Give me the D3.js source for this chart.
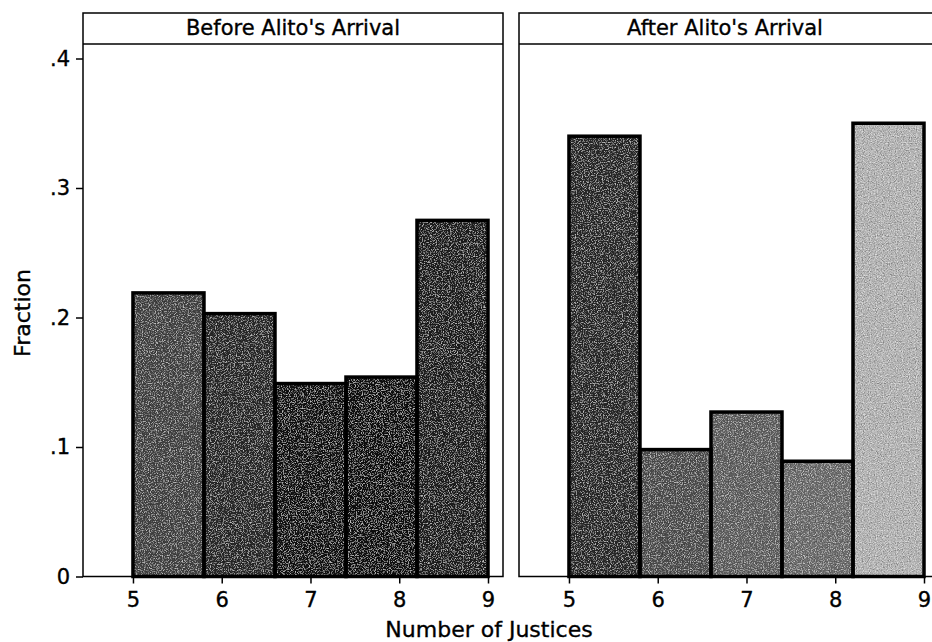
<!DOCTYPE html>
<html>
<head>
  <meta charset="utf-8">
  <title>Number of Justices - Before / After Alito</title>
  <script src="https://d3js.org/d3.v7.min.js"></script>
  <style>
    body { margin: 0; overflow: hidden; background: #fff; }
    svg { display: block; }
    text { font-family: "DejaVu Sans", sans-serif; fill: #000; stroke: #000; stroke-width: 0.35px; }
  </style>
</head>
<body>
  <svg width="932" height="642"></svg>

  <script>
    // data
    const panels = ["Before Alito's Arrival", "After Alito's Arrival"];
    const binStarts = [5, 5.8, 6.6, 7.4, 8.2];
    const binWidth = 0.8;
    const beforeValues = [0.219, 0.203, 0.149, 0.154, 0.275];
    const afterValues = [0.340, 0.098, 0.127, 0.089, 0.350];
    const xTicks = [5, 6, 7, 8, 9];
    const yTicks = [0, 0.1, 0.2, 0.3, 0.4];

    // bar shades (scan looks like grainy grays)
    const beforeShades = ["#444", "#2a2a2a", "#141414", "#101010", "#1e1e1e"];
    const afterShades = ["#2a2a2a", "#4e4e4e", "#606060", "#6c6c6c", "#b4b4b4"];

    const svg = d3.select("svg");

    // grain filter so the fills look a bit like the printed halftone
    const defs = svg.append("defs");
    const f = defs.append("filter").attr("id", "grain")
      .attr("x", 0).attr("y", 0).attr("width", 1).attr("height", 1);
    f.append("feTurbulence").attr("type", "fractalNoise")
      .attr("baseFrequency", 0.85).attr("numOctaves", 2).attr("seed", 7).attr("result", "n");
    f.append("feColorMatrix").attr("in", "n").attr("type", "matrix")
      .attr("values", "1 1 1 0 -1  1 1 1 0 -1  1 1 1 0 -1  0 0 0 0 1")
      .attr("result", "g");
    f.append("feComposite").attr("in", "g").attr("in2", "SourceGraphic")
      .attr("operator", "in").attr("result", "gi");
    f.append("feBlend").attr("in", "SourceGraphic").attr("in2", "gi")
      .attr("mode", "overlay").attr("result", "b");
    // tone the grain down by mixing back with the plain fill
    f.append("feComposite").attr("in", "SourceGraphic").attr("in2", "b")
      .attr("operator", "arithmetic").attr("k1", 0).attr("k2", 0.5).attr("k3", 0.5).attr("k4", 0);

    const panelW = 420;
    const panelLeft = [83, 519];
    const panelTop = 13, stripH = 31, bottom = 576.5;

    const y = d3.scaleLinear().domain([0, 0.4112]).range([bottom, panelTop + stripH]);

    const series = [beforeValues, afterValues];
    const shades = [beforeShades, afterShades];

    panels.forEach((title, p) => {
      const x0 = panelLeft[p];
      const x = d3.scaleLinear().domain([4.437, 9.169]).range([x0, x0 + panelW]);
      const g = svg.append("g");

      const bars = binStarts.map((s, i) => ({ s, v: series[p][i], c: shades[p][i] }));

      g.selectAll("rect.fill").data(bars).join("rect")
        .attr("class", "fill")
        .attr("x", d => x(d.s))
        .attr("y", d => y(d.v))
        .attr("width", d => x(d.s + binWidth) - x(d.s))
        .attr("height", d => y(0) - y(d.v))
        .attr("fill", d => d.c)
        .attr("filter", "url(#grain)");

      g.selectAll("rect.edge").data(bars).join("rect")
        .attr("class", "edge")
        .attr("x", d => x(d.s))
        .attr("y", d => y(d.v))
        .attr("width", d => x(d.s + binWidth) - x(d.s))
        .attr("height", d => y(0) - y(d.v))
        .attr("fill", "none")
        .attr("stroke", "#000")
        .attr("stroke-width", 3.5);

      // frame + strip
      g.append("rect")
        .attr("x", x0).attr("y", panelTop)
        .attr("width", panelW).attr("height", bottom - panelTop)
        .attr("fill", "none").attr("stroke", "#000").attr("stroke-width", 1.5);
      g.append("line")
        .attr("x1", x0).attr("x2", x0 + panelW)
        .attr("y1", panelTop + stripH).attr("y2", panelTop + stripH)
        .attr("stroke", "#000").attr("stroke-width", 1.5);
      g.append("text")
        .attr("x", x0 + panelW / 2 - (p === 1 ? 4 : 0))
        .attr("y", panelTop + 22)
        .attr("text-anchor", "middle")
        .attr("font-size", 21)
        .text(title);

      // x axis
      const xa = g.append("g")
        .attr("transform", `translate(0,${bottom})`)
        .call(d3.axisBottom(x).tickValues(xTicks).tickSize(7).tickPadding(9).tickFormat(d3.format("d")));
      xa.select(".domain").remove();
      xa.selectAll("line").attr("stroke-width", 1.5);
      xa.selectAll("text").attr("font-size", 21).attr("font-family", "DejaVu Sans");

      if (p === 0) {
        const ya = g.append("g")
          .attr("transform", `translate(${x0},0)`)
          .call(d3.axisLeft(y).tickValues(yTicks).tickSize(7).tickPadding(6)
            .tickFormat(d => d === 0 ? "0" : d3.format(".1f")(d).replace(/^0/, "")));
        ya.select(".domain").remove();
        ya.selectAll("line").attr("stroke-width", 1.5);
        ya.selectAll("text").attr("font-size", 21).attr("font-family", "DejaVu Sans");
      }
    });

    // axis titles
    svg.append("text")
      .attr("x", 489).attr("y", 637)
      .attr("text-anchor", "middle")
      .attr("font-size", 22)
      .text("Number of Justices");

    svg.append("text")
      .attr("transform", "translate(30,313) rotate(-90)")
      .attr("text-anchor", "middle")
      .attr("font-size", 22)
      .text("Fraction");
  </script>
</body>
</html>
